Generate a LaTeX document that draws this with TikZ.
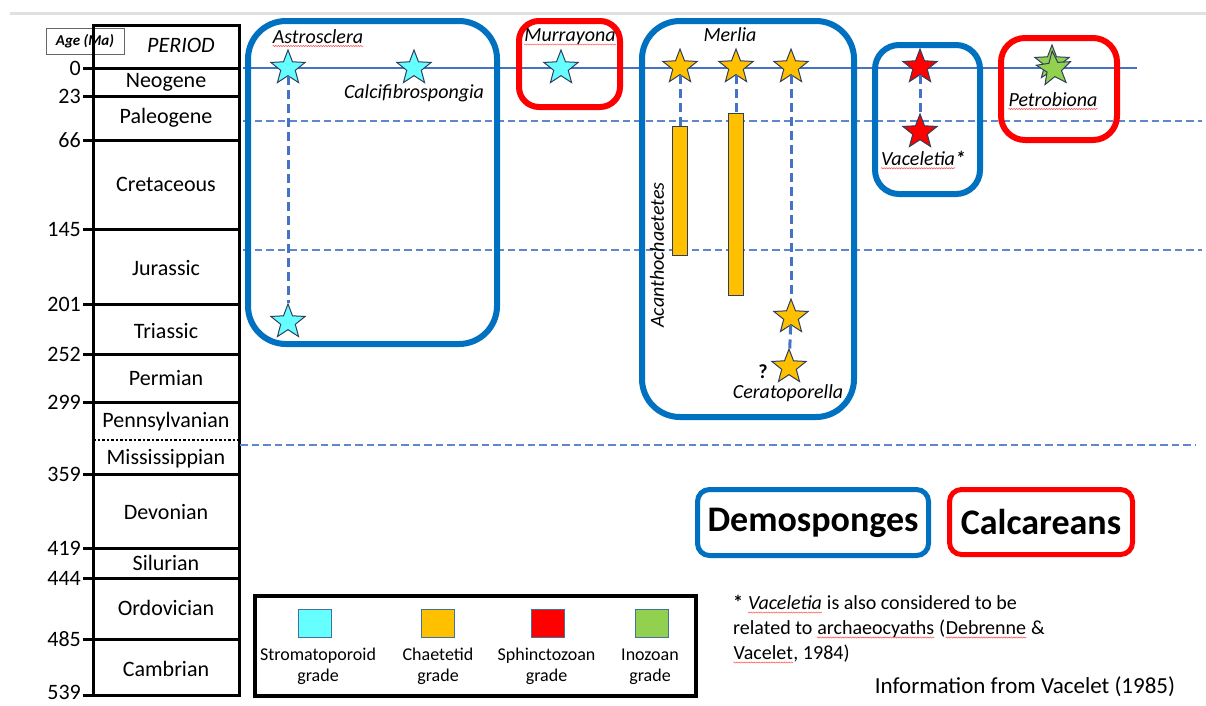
\documentclass[tikz,border=0pt]{standalone}
\usepackage{fontspec}
\setmainfont{Carlito}
\usetikzlibrary{
	shapes.geometric,
	decorations.pathmorphing,
	positioning
}

\definecolor{demoblue}{HTML}{0070C0}
\definecolor{calcred}{HTML}{FF0000}
\definecolor{lineblue}{HTML}{4472C4}
\definecolor{stromcyan}{HTML}{66FFFF}
\definecolor{chaetorange}{HTML}{FFC000}
\definecolor{sphinred}{HTML}{FF0000}
\definecolor{inozgreen}{HTML}{92D050}
\definecolor{staredge}{HTML}{2F3E5C}
\definecolor{keyedge}{HTML}{41719C}

% red spell-check wave under a word
\newcommand{\spellwave}[1]{\tikz[baseline=(w.base)]{\node[inner sep=0pt] (w) {#1};
  \draw[red!70, line width=0.5pt, decorate, decoration={snake, amplitude=0.6pt, segment length=2.5pt}]
    ([yshift=-3pt]w.base west) -- ([yshift=-3pt]w.base east);}}

\begin{document}
\begin{tikzpicture}[
    x=1pt, y=-1pt,
    agelab/.style={anchor=east, inner sep=0, font=\fontsize{22}{26}\selectfont},
    period/.style={inner sep=0, font=\fontsize{22}{26}\selectfont},
    taxon/.style={inner sep=0, font=\fontsize{20}{24}\selectfont\itshape},
    sp/.style={star, star points=5, star point ratio=2.35, minimum size=36pt, inner sep=0, draw=staredge, line width=1pt, fill=#1},
    chaetbar/.style={rectangle, fill=chaetorange, draw=staredge, line width=0.8pt, minimum width=15pt, inner sep=0},
    rangeline/.style={lineblue, line width=3pt, dash pattern=on 9pt off 5pt},
    epochline/.style={lineblue!85, line width=1.6pt, dash pattern=on 7.5pt off 4pt},
    demobox/.style={draw=demoblue, line width=6pt},
    calcbox/.style={draw=calcred, line width=6pt},
    keybox/.style={rectangle, draw=keyedge, line width=0.8pt, minimum width=33pt, minimum height=28pt, inner sep=0},
    keylab/.style={align=center, inner sep=0, font=\fontsize{18}{21}\selectfont},
    tagbox/.style={rectangle, rounded corners=12pt, line width=5pt, inner sep=0, font=\fontsize{36}{40}\selectfont\bfseries}
]
\useasboundingbox (0,0) rectangle (1206,705);

\draw[black!12, line width=3pt] (10,13.5) -- (1206,13.5);

% Time scale
\node[draw=black!60, line width=0.8pt, minimum width=78pt, minimum height=26pt, inner sep=0,
      font=\fontsize{15}{18}\selectfont\bfseries\itshape] (agehead) at (85,41) {Age (Ma)};
\node[period, font=\fontsize{22}{26}\selectfont\itshape] (periodhead) at (181,45) {PERIOD};
\draw[line width=3pt] (93,25) rectangle (239,695);
\foreach \y/\a in {68/0, 96/23, 140/66, 229/145, 304/201, 354/252, 402/299,
                   474/359, 548/419, 578/444, 639/485} {
  \draw[line width=3pt] (83,\y) -- (239,\y);
  \node[agelab] (age\a) at (81,\y) {\a};
}
\draw[line width=3pt] (83,695) -- (239,695);
\node[agelab] (age539) at (81,692) {539};
\draw[line width=2.5pt, dotted] (93,440) -- (239,440);
\foreach \y/\p in {82/Neogene, 118/Paleogene, 184/Cretaceous, 268/Jurassic,
                   331/Triassic, 378/Permian, 422/Pennsylvanian, 459/Mississippian,
                   512/Devonian, 563/Silurian, 608/Ordovician, 669/Cambrian}
  \node[period] (\p) at (166,\y) {\p};

% Reference lines
\draw[lineblue, line width=2pt] (243,68) -- (1137,68);
\draw[epochline] (243,121) -- (1202,121);
\draw[epochline] (243,250) -- (1202,250);
\draw[epochline] (240,445) -- (1195,445);

% Groups
\draw[demobox, rounded corners=38pt] (248,21) rectangle (497,344);
\draw[calcbox, rounded corners=20pt] (519,21) rectangle (620,107);
\draw[demobox, rounded corners=38pt] (642,21) rectangle (854,417);
\draw[demobox, rounded corners=24pt] (875,45) rectangle (980,194);
\draw[calcbox, rounded corners=24pt] (1001,38) rectangle (1117,140);

% Ranges
\node[chaetbar, minimum height=129pt] (acan) at (680,190.5) {};
\node[chaetbar, minimum height=182pt] (merlbar) at (736,204) {};

\node[sp=stromcyan] (astro1) at (288,68) {};
\node[sp=stromcyan] (astro2) at (288,322) {};
\node[sp=stromcyan] (calci) at (414,68) {};
\node[sp=stromcyan] (murra) at (561,68) {};
\node[sp=chaetorange] (merl1) at (680,67) {};
\node[sp=chaetorange] (merl2) at (736,67) {};
\node[sp=chaetorange] (merl3) at (791,67) {};
\node[sp=chaetorange] (cera1) at (791,317) {};
\node[sp=chaetorange] (cera2) at (789,367) {};
\node[sp=sphinred] (vace1) at (920,67) {};
\node[sp=sphinred] (vace2) at (920,132) {};
\node[sp=inozgreen] (petro1) at (1052,63) {};
\node[sp=inozgreen, rotate=6] (petro2) at (1054,69) {};

\draw[rangeline] (astro1) -- (astro2);
\draw[rangeline] (merl1) -- (acan);
\draw[rangeline] (merl2) -- (merlbar);
\draw[rangeline] (merl3) -- (cera1);
\draw[rangeline] (cera1) -- (cera2);
\draw[rangeline] (vace1) -- (vace2);

% Taxa
\node[taxon] (astrolab) at (318,38) {\spellwave{Astrosclera}};
\node[taxon] (calcilab) at (414,93) {Calcifibrospongia};
\node[taxon] (murralab) at (570,37) {\spellwave{Murrayona}};
\node[taxon] (merllab) at (730,35) {Merlia};
\node[taxon, rotate=90] (acanlab) at (657,255) {Acanthochaetetes};
\node[taxon, font=\fontsize{20}{24}\selectfont\bfseries] (query) at (763,372) {?};
\node[taxon] (ceralab) at (788,393) {Ceratoporella};
\node[taxon] (vacelab) at (923,160) {\spellwave{Vaceletia}\textbf{*}};
\node[taxon] (petrolab) at (1053,101) {\spellwave{Petrobiona}};

% Key
\node[tagbox, draw=demoblue, minimum width=231pt, minimum height=66pt] (demotag) at (813,522.5) {Demosponges};
\node[tagbox, draw=calcred, minimum width=183pt, minimum height=65pt] (calctag) at (1041,522) {Calcareans};

\draw[line width=3.5pt] (255,596) rectangle (696,696);
\node[keybox, fill=stromcyan] (keystrom) at (315,623) {};
\node[keybox, fill=chaetorange] (keychaet) at (438,623) {};
\node[keybox, fill=sphinred] (keysphin) at (548,623) {};
\node[keybox, fill=inozgreen] (keyinoz) at (652,623) {};
\node[keylab] (labstrom) at (318,666.5) {Stromatoporoid\\grade};
\node[keylab] (labchaet) at (438,666.5) {Chaetetid\\grade};
\node[keylab] (labsphin) at (546.5,666.5) {Sphinctozoan\\grade};
\node[keylab] (labinoz) at (650,666.5) {Inozoan\\grade};

\node[anchor=north west, align=left, inner sep=0, font=\fontsize{20}{25}\selectfont] (note) at (733,595)
  {\textbf{*} \textit{\spellwave{Vaceletia}} is also considered to be\\
   related to \spellwave{archaeocyaths} (\spellwave{Debrenne} \&\\
   \spellwave{Vacelet}, 1984)};
\node[inner sep=0, font=\fontsize{23}{27}\selectfont] (source) at (1025,687) {Information from Vacelet (1985)};

\end{tikzpicture}
\end{document}
